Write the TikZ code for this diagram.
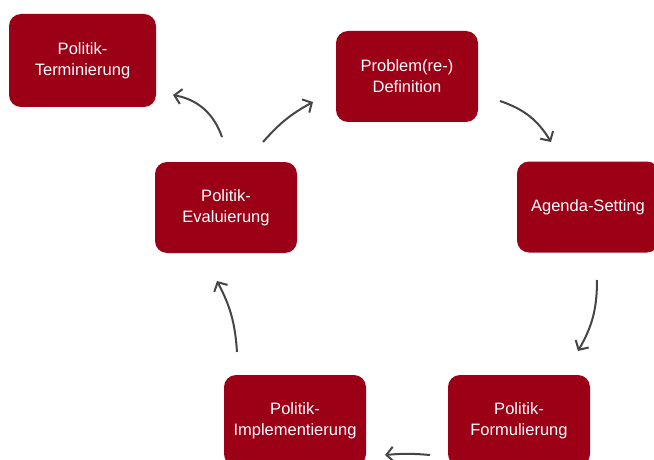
\documentclass[tikz,border=0pt]{standalone}
\usepackage{fontspec}
\setmainfont{Liberation Sans}
\usetikzlibrary{arrows.meta}
\definecolor{boxred}{HTML}{9B0016}
\definecolor{arrowgray}{HTML}{454545}
\tikzset{
	phase/.style={align=center,rectangle,rounded corners=12pt,minimum width=142pt,minimum height=91pt,text centered,fill=boxred,text=white,font=\fontsize{16.5}{21}\selectfont},
	cyc/.style={draw=arrowgray,line width=2pt,-{Straight Barb[length=7pt,width=15pt,line width=2pt]}}
}
\begin{document}
\begin{tikzpicture}[x=1pt,y=1pt]
					\clip (0,0) rectangle (654,459);
					\node (term)[phase,minimum width=147pt,minimum height=93pt] at (82.5,398.5){Politik-\\Terminierung};
					\node (prob)[phase] at (407,382.5){Problem(re-)\\Definition};
					\node (agenda)[phase] at (588,252){Agenda-Setting};
					\node (eval)[phase] at (226,251.5){Politik-\\Evaluierung};
					\node (impl)[phase] at (295,38.5){Politik-\\Implementierung};
					\node (form)[phase] at (519,38.5){Politik-\\Formulierung};
					\coordinate (probout) at (500,358);
					\coordinate (agendain) at (551,317);
					\coordinate (agendaout) at (597,179);
					\coordinate (formin) at (578,108);
					\coordinate (formout) at (430,4);
					\coordinate (implin) at (385,4);
					\coordinate (implout) at (237,107);
					\coordinate (evalin) at (217,178);
					\coordinate (evalout1) at (222,322);
					\coordinate (termin) at (173,364);
					\coordinate (evalout2) at (263,317);
					\coordinate (probin) at (313,357);
					\draw[cyc] (probout) to[bend left=20] (agendain);
					\draw[cyc] (agendaout) to[bend left=15] (formin);
					\draw[cyc] (formout) to[bend right=5] (implin);
					\draw[cyc] (implout) to[bend right=12] (evalin);
					\draw[cyc] (evalout1) to[bend right=30] (termin);
					\draw[cyc] (evalout2) to[bend left=10] (probin);
				\end{tikzpicture}
\end{document}
